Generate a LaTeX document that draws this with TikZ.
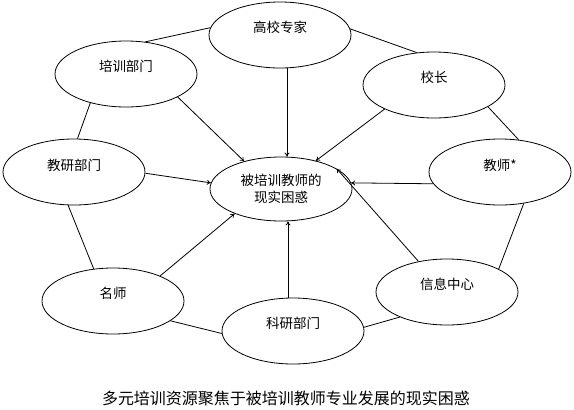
\documentclass[tikz,border=0pt]{standalone}
\usepackage{fontspec}
\setmainfont{Noto Sans CJK SC}
\usetikzlibrary{shapes.geometric,arrows.meta}
\begin{document}
\begin{tikzpicture}[x=1pt,y=-1pt,
  ell/.style={draw=black,line width=0.8pt,ellipse,minimum width=142pt,minimum height=66pt,inner sep=0pt},
  txt/.style={font=\fontsize{13.5}{17}\selectfont,inner sep=0pt},
  ring/.style={draw=black,line width=0.8pt},
  arr/.style={draw=black,line width=0.8pt,-{To[length=4pt,width=5pt]}}]
\useasboundingbox (0,0) rectangle (574,410);
\node[ell] (A) at (280,35) {};
\node[ell] (B) at (126,74) {};
\node[ell] (C) at (434,85) {};
\node[ell] (D) at (74,172) {};
\node[ell] (E) at (500,172) {};
\node[ell,txt,minimum width=142pt,minimum height=64pt,align=center] (F) at (281,189) {被培训教师的\\现实困惑};
\node[ell] (G) at (113,301) {};
\node[ell] (H) at (293,331) {};
\node[ell] (I) at (447,292) {};
\node[txt] (At) at ([yshift=8pt]A.center) {高校专家};
\node[txt] (Bt) at ([yshift=8pt]B.center) {培训部门};
\node[txt] (Ct) at ([yshift=8pt]C.center) {校长};
\node[txt] (Dt) at ([yshift=7pt]D.center) {教研部门};
\node[txt] (Et) at ([yshift=7pt]E.center) {教师*};
\node[txt] (Gt) at ([yshift=8pt]G.center) {名师};
\node[txt] (Ht) at ([yshift=8pt]H.center) {科研部门};
\node[txt] (It) at ([yshift=8pt]I.center) {信息中心};
\node[font=\fontsize{16}{19}\selectfont,inner sep=0pt] (cap) at (286,398) {多元培训资源聚焦于被培训教师专业发展的现实困惑};
% ring
\draw[ring] (A.174) -- (B.59);
\draw[ring] (A.5) -- (C.118);
\draw[ring] (B.219) -- (D.84);
\draw[ring] (C.338) -- (E.60);
\draw[ring] (D.260) -- (G.121);
\draw[ring] (G.341) -- (H.182);
\draw[ring] (H.3) -- (I.208);
\draw[ring] (E.307) -- (I.24);
% arrows
\draw[arr] ([xshift=7pt]A.south) -- ([xshift=7pt]A.south |- F.north);
\draw[arr] ([xshift=-5pt]H.north) -- ([xshift=-5pt]H.north |- F.south);
\draw[arr] (B.336) -- (F.143);
\draw[arr] (C.206) -- (F.39);
\draw[arr] (D.359) -- (F.175);
\draw[arr] (E.190) -- (F.5);
\draw[arr] (G.28) -- (F.208);
\draw[arr] (I.133) -- (F.20);
\end{tikzpicture}
\end{document}
